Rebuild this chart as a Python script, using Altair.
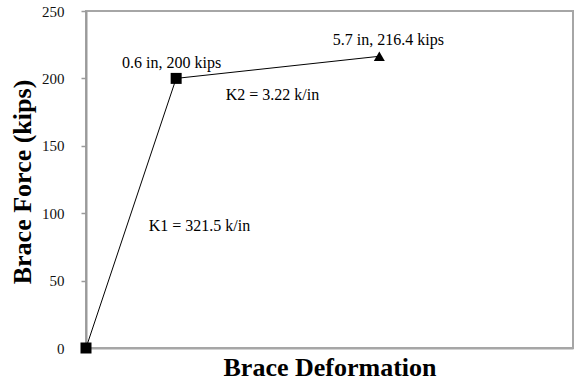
import altair as alt
import pandas as pd

# Bilinear brace response: origin, yield point, ultimate point
deformation_in = [0.0, 0.6, 5.7]
force_kips = [0.0, 200.0, 216.4]
stage = ["origin", "yield", "ultimate"]

# Stiffness annotations placed in data space
stiff_text = ["K1 = 321.5 k/in", "K2 = 3.22 k/in"]
stiff_x = [0.93, 2.40]
stiff_y = [90.5, 187.7]

y_ticks = [0, 50, 100, 150, 200, 250]

SERIF = "Liberation Serif"

pts = pd.DataFrame({"d": deformation_in, "f": force_kips, "stage": stage})
pts["label"] = [f"{d:g} in, {f:g} kips" for d, f in zip(deformation_in, force_kips)]
ann = pd.DataFrame({"d": stiff_x, "f": stiff_y, "text": stiff_text})

x_scale = alt.Scale(type="pow", exponent=0.524, domain=[0, 15], nice=False, zero=True)
y_scale = alt.Scale(domain=[0, 250], nice=False)

x_enc = alt.X("d:Q", scale=x_scale,
              axis=alt.Axis(title="Brace Deformation", labels=False, ticks=False,
                            grid=False, domainColor="#a6a6a6", domainWidth=2,
                            titleFont=SERIF, titleFontSize=26, titleFontWeight="bold",
                            titleColor="#000", titleBaseline="alphabetic",
                            titleY=27))
y_enc = alt.Y("f:Q", scale=y_scale,
              axis=alt.Axis(title="Brace Force (kips)", values=y_ticks, grid=False,
                            domainColor="#9a9a9a", domainWidth=2,
                            tickColor="#9a9a9a", tickSize=5, tickWidth=1.5,
                            labelFont=SERIF, labelFontSize=15, labelColor="#111",
                            labelPadding=17,
                            titleFont=SERIF, titleFontSize=26, titleFontWeight="bold",
                            titleColor="#000", titleAngle=-90,
                            titleBaseline="alphabetic", titleX=-56, titleY=170.5,
                            titleAlign="center"))

base = alt.Chart(pts)

line = base.mark_line(color="#000", strokeWidth=1).encode(x=x_enc, y=y_enc, order=alt.Order("d:Q"))

markers = base.mark_point(filled=True, opacity=1, color="#000").encode(
    x="d:Q", y="f:Q",
    shape=alt.Shape("stage:N", legend=None,
                    scale=alt.Scale(domain=stage, range=["square", "square", "triangle-up"])),
    size=alt.Size("stage:N", legend=None,
                  scale=alt.Scale(domain=stage, range=[121, 121, 115])),
)

yield_label = base.transform_filter(alt.datum.stage == "yield").mark_text(
    font=SERIF, fontSize=16, color="#000", baseline="middle", dx=-4.5, dy=-15.5
).encode(x="d:Q", y="f:Q", text="label:N")

ult_label = base.transform_filter(alt.datum.stage == "ultimate").mark_text(
    font=SERIF, fontSize=16, color="#000", baseline="middle", dx=9, dy=-16
).encode(x="d:Q", y="f:Q", text="label:N")

stiff = alt.Chart(ann).mark_text(
    font=SERIF, fontSize=16, color="#000", baseline="middle"
).encode(x="d:Q", y="f:Q", text="text:N")

chart = alt.layer(line, markers, yield_label, ult_label, stiff).properties(
    width=487, height=337,
    autosize=alt.AutoSizeParams(type="none"),
    padding={"left": 86, "top": 11, "right": 2, "bottom": 37},
    background="#ffffff",
).configure(font=SERIF).configure_text(font=SERIF).configure_view(
    stroke="#a6a6a6", strokeWidth=2)

chart.save("out.html", embed_options={"renderer": "svg", "actions": False})
